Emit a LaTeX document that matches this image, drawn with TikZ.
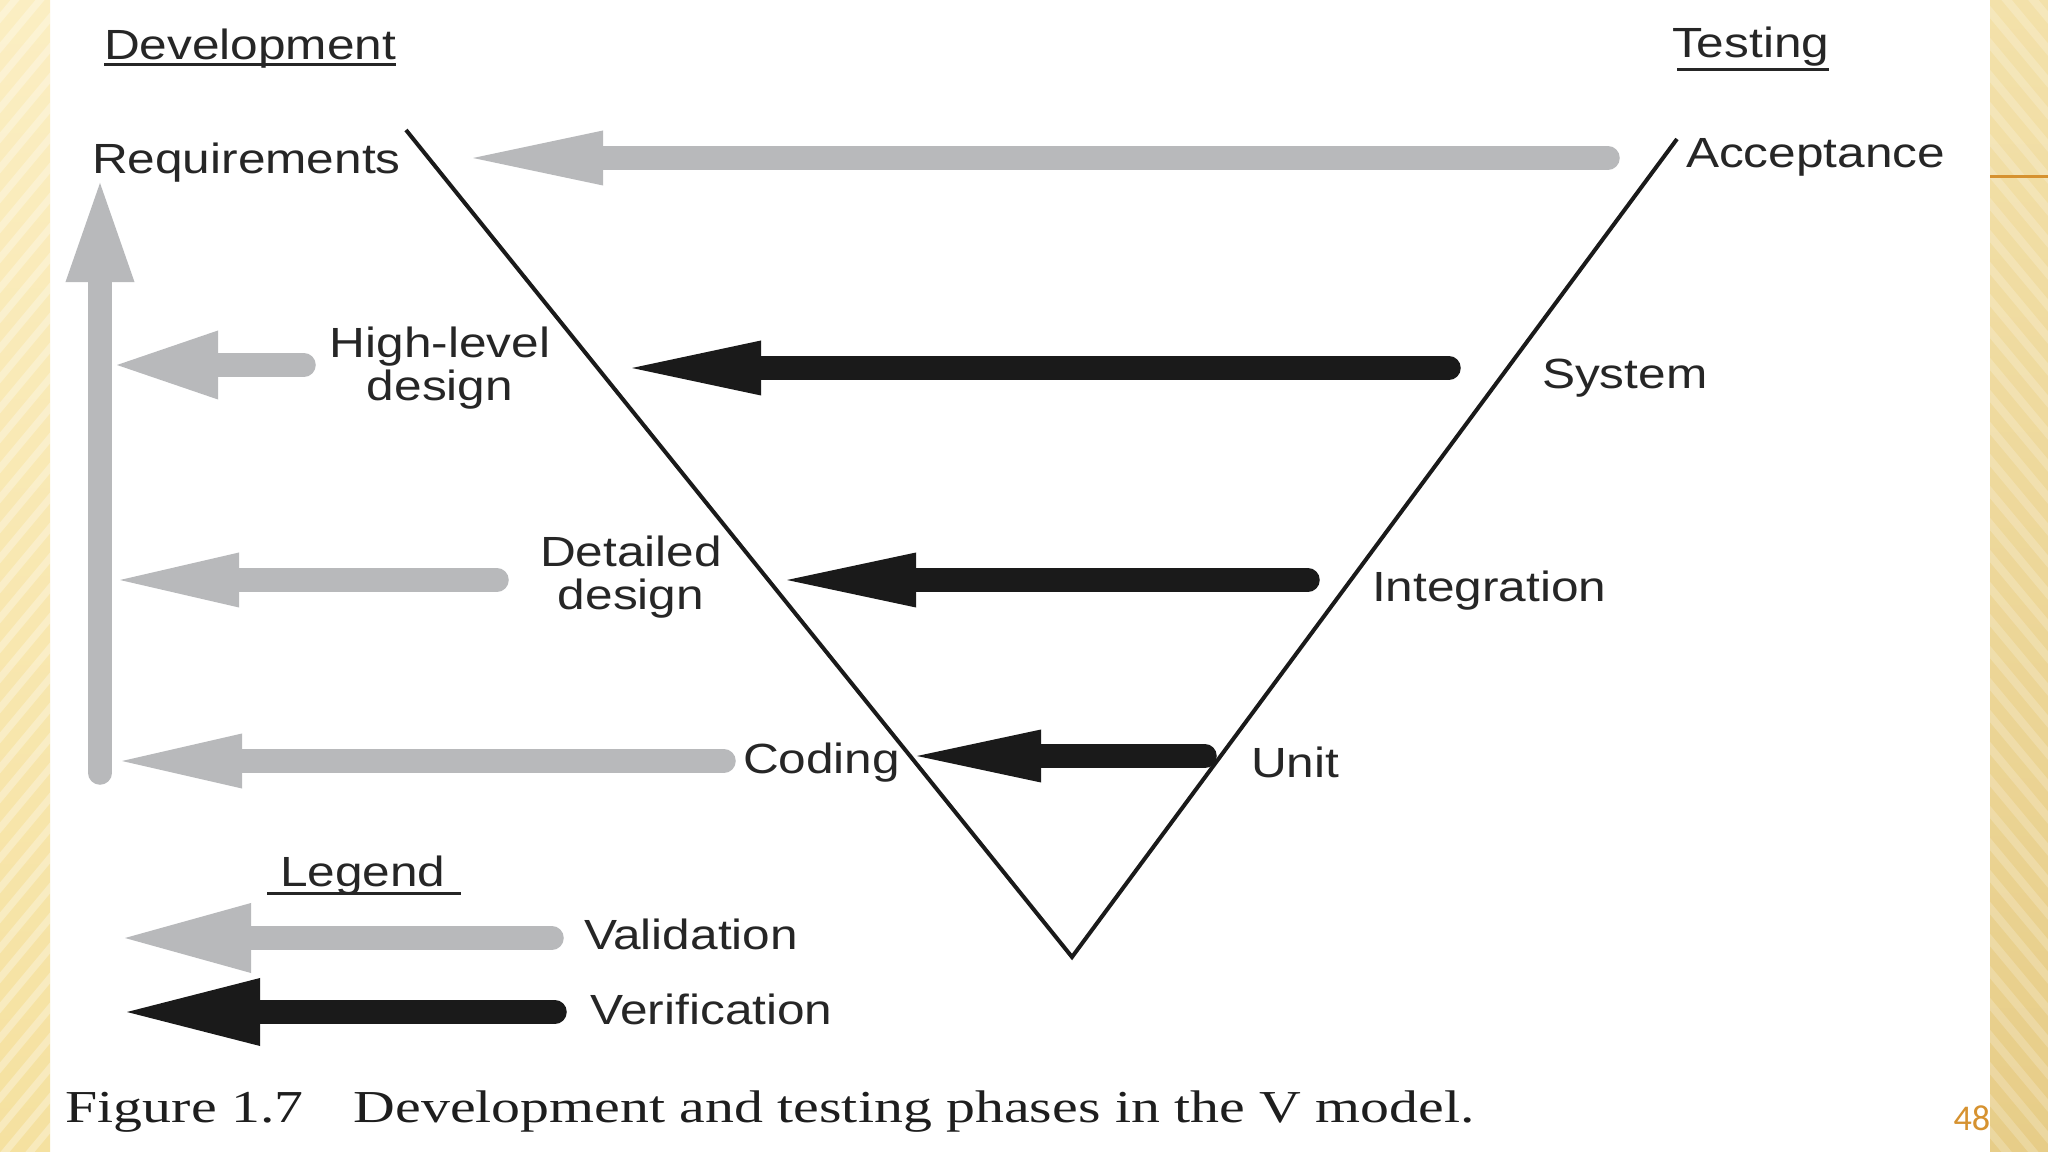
\documentclass[tikz,border=0pt]{standalone}
\usepackage{fontspec}
\setmainfont{Liberation Sans}
\newfontfamily\dsans[FakeStretch=1.175]{Liberation Sans}
\newfontfamily\capfont[FakeStretch=1.265]{Liberation Serif}
\newfontfamily\pagefont{Carlito}
\usetikzlibrary{arrows.meta,calc}
\definecolor{vgray}{RGB}{184,185,187}
\definecolor{vblack}{RGB}{26,26,26}
\definecolor{vtext}{RGB}{38,38,38}
\definecolor{vcap}{RGB}{30,30,30}
\definecolor{vorange}{RGB}{214,146,48}
\definecolor{stripLa}{RGB}{251,238,194}
\definecolor{stripLb}{RGB}{245,225,160}
\definecolor{stripRa}{RGB}{243,225,170}
\definecolor{stripRb}{RGB}{231,205,136}
\begin{document}
\begin{tikzpicture}[x=0.01cm,y=-0.01cm,
  lbl/.style={font=\dsans\fontsize{12}{14}\selectfont, text=vtext, inner sep=0pt, outer sep=0pt},
  varrow/.style n args={3}{draw=#1, line width=0.235cm, line cap=round,
     -{Triangle[length=#2,width=#3,line width=0pt]}},
  vline/.style={draw=vblack, line width=0.04cm, line join=miter},
  uline/.style={draw=vtext, line width=0.03cm}]
\useasboundingbox (0,0) rectangle (2048,1152);
% page background
\fill[white] (0,0) rectangle (2048,1152);
\shade[top color=stripLa, bottom color=stripLb] (0,0) rectangle (50,1152);
\shade[top color=stripRa, bottom color=stripRb] (1990,0) rectangle (2048,1152);
\begin{scope}
  \clip (0,0) rectangle (50,1152);
  \foreach \k in {0,...,45} \draw[white, opacity=0.3, line width=0.07cm] (-10,\k*30) -- (60,\k*30-84);
\end{scope}
\begin{scope}
  \clip (1990,0) rectangle (2048,1152);
  \foreach \k in {-5,...,40} \draw[white, opacity=0.2, line width=0.08cm] (1980,\k*32) -- (2060,\k*32+96);
\end{scope}
\draw[vorange, line width=0.03cm] (1990,177) -- (2048,177);

% headings
\node[lbl, anchor=base west] (dev) at (104,60) {Development};
\node[lbl, anchor=base west] (test) at (1672,58) {Testing};
\draw[uline] ($(dev.base west)+(0,5)$) -- ($(dev.base east)+(0,5)$);
\draw[uline] ($(test.base west)+(5,12)$) -- ($(test.base east)+(0,12)$);

% phase labels
\node[lbl, anchor=base west] (req) at (92,174) {Requirements};
\node[lbl, anchor=base west] (acc) at (1686,168) {Acceptance};
\node[lbl, anchor=base] (hld1) at (440,358) {High-level};
\node[lbl, anchor=base] (hld2) at (440,401) {design};
\node[lbl, anchor=base west] (sys) at (1542,389) {System};
\node[lbl, anchor=base] (det1) at (631,567) {Detailed};
\node[lbl, anchor=base] (det2) at (631,610) {design};
\node[lbl, anchor=base west] (integ) at (1372,601) {Integration};
\node[lbl, anchor=base west] (cod) at (743,773) {Coding};
\node[lbl, anchor=base west] (unit) at (1251,777) {Unit};

% legend
\node[lbl, anchor=base west] (leg) at (280,886) {Legend};
\draw[uline] ($(leg.base west)+(-13,7)$) -- ($(leg.base east)+(16,7)$);
\node[lbl, anchor=base west] (val) at (584,949) {Validation};
\node[lbl, anchor=base west] (ver) at (590,1024) {Verification};

% arrow end points
\coordinate (accT) at (1608,158);  \coordinate (accH) at (473,158);
\coordinate (reqT) at (100,773);   \coordinate (reqH) at (100,183);
\coordinate (hldT) at (304,365);   \coordinate (hldH) at (117,365);
\coordinate (detT) at (497,580);   \coordinate (detH) at (120,580);
\coordinate (codT) at (724,761);   \coordinate (codH) at (122,761);
\coordinate (sysT) at (1449,368);  \coordinate (sysH) at (632,368);
\coordinate (intT) at (1308,580);  \coordinate (intH) at (787,580);
\coordinate (unitT) at (1205,756); \coordinate (unitH) at (917,756);
\coordinate (valT) at (552,938);   \coordinate (valH) at (125,938);
\coordinate (verT) at (555,1012);  \coordinate (verH) at (127,1012);

% validation arrows (gray)
\draw[varrow={vgray}{1.30cm}{0.55cm}] (accT) -- (accH);
\draw[varrow={vgray}{0.99cm}{0.69cm}] (reqT) -- (reqH);
\draw[varrow={vgray}{1.01cm}{0.69cm}] (hldT) -- (hldH);
\draw[varrow={vgray}{1.19cm}{0.55cm}] (detT) -- (detH);
\draw[varrow={vgray}{1.20cm}{0.55cm}] (codT) -- (codH);
\draw[varrow={vgray}{1.26cm}{0.70cm}] (valT) -- (valH);

% verification arrows (black)
\draw[varrow={vblack}{1.29cm}{0.55cm}] (sysT) -- (sysH);
\draw[varrow={vblack}{1.29cm}{0.55cm}] (intT) -- (intH);
\draw[varrow={vblack}{1.24cm}{0.53cm}] (unitT) -- (unitH);
\draw[varrow={vblack}{1.33cm}{0.68cm}] (verT) -- (verH);

% the V
\coordinate (vl) at (406,130);
\coordinate (vb) at (1072,957);
\coordinate (vr) at (1677,139);
\draw[vline] (vl) -- (vb) -- (vr);

% caption and page number
\node[font=\capfont\fontsize{13}{15}\selectfont, text=vcap, inner sep=0pt, anchor=base west] (cap) at (65,1122)
  {Figure 1.7\hspace{1.1em}Development and testing phases in the V model.};
\node[font=\pagefont\fontsize{10.3}{12}\selectfont, text=vorange, inner sep=0pt, anchor=base east] (pg) at (1991,1130) {48};
\end{tikzpicture}
\end{document}
